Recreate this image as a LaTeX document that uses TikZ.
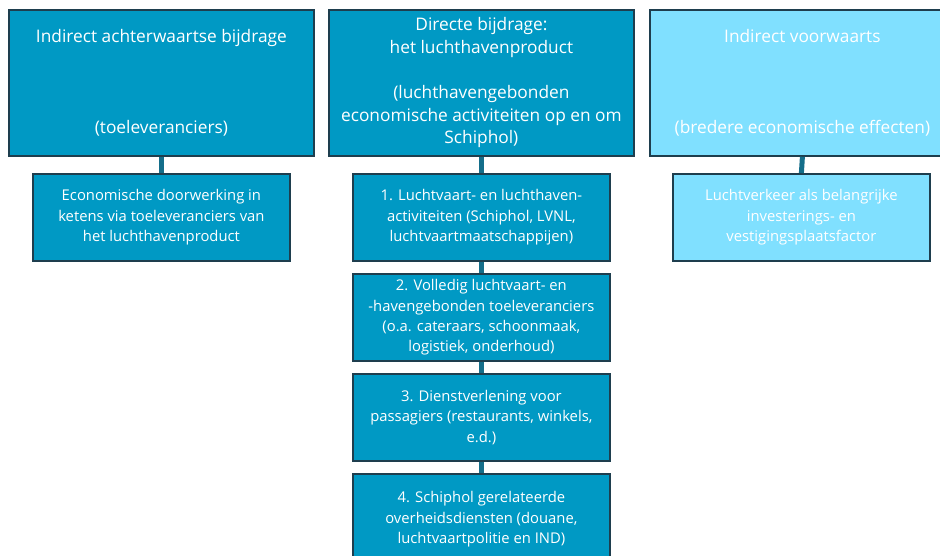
\documentclass[tikz,border=0pt]{standalone}
\usepackage{fontspec}
\setmainfont{Open Sans}
\definecolor{darkbox}{RGB}{0,153,196}
\definecolor{lightbox}{RGB}{128,224,255}
\definecolor{boxline}{RGB}{30,62,78}
\definecolor{conn}{RGB}{20,110,138}
\begin{document}
\begin{tikzpicture}[x=1pt,y=-1pt,
  topbox/.style={draw=boxline,line width=1.8pt,fill=darkbox,text=white,anchor=north west,
    minimum width=305pt,minimum height=146pt,inner sep=0pt,align=center,
    font=\fontsize{17.3}{22.6}\selectfont},
  subbox/.style={draw=boxline,line width=1.8pt,fill=darkbox,text=white,anchor=north west,
    minimum width=257pt,minimum height=87pt,inner sep=0pt,align=center,
    font=\fontsize{14.8}{20.4}\selectfont},
  light/.style={fill=lightbox},
  link/.style={conn,line width=5pt}]
\useasboundingbox (0,0) rectangle (940,555);
\fill[white] (0,0) rectangle (940,555);
\clip (0,0) rectangle (940,555);
% top boxes
\node[topbox] (tl) at (8,9) {Indirect achterwaartse bijdrage\\~\\~\\~\\(toeleveranciers)};
\node[topbox] (tm) at (328,9) {Directe bijdrage:\\het luchthavenproduct\\~\\(luchthavengebonden\\economische activiteiten op en om\\Schiphol)};
\node[topbox,light] (tr) at (649,9) {Indirect voorwaarts\\~\\~\\~\\(bredere economische effecten)};
% sub boxes
\node[subbox] (sl) at (32,173) {Economische doorwerking in\\ketens via toeleveranciers van\\het luchthavenproduct};
\node[subbox] (m1) at (352,173) {1. Luchtvaart- en luchthaven-\\activiteiten (Schiphol, LVNL,\\luchtvaartmaatschappijen)};
\node[subbox] (m2) at (352,273) {2. Volledig luchtvaart- en\\-havengebonden toeleveranciers\\(o.a. cateraars, schoonmaak,\\logistiek, onderhoud)};
\node[subbox] (m3) at (352,373) {3. Dienstverlening voor\\passagiers (restaurants, winkels,\\e.d.)};
\node[subbox,minimum height=91pt] (m4) at (352,473) {4. Schiphol gerelateerde\\overheidsdiensten (douane,\\luchtvaartpolitie en IND)};
\node[subbox,light] (sr) at (672,173) {Luchtverkeer als belangrijke\\investerings- en\\vestigingsplaatsfactor};
% connectors
\draw[link] (tl.south) -- (sl.north);
\draw[link] (tm.south) -- (m1.north);
\draw[link] (m1.south) -- (m2.north);
\draw[link] (m2.south) -- (m3.north);
\draw[link] (m3.south) -- (m4.north);
\draw[link] (tr.south) -- (sr.north);
\end{tikzpicture}
\end{document}
